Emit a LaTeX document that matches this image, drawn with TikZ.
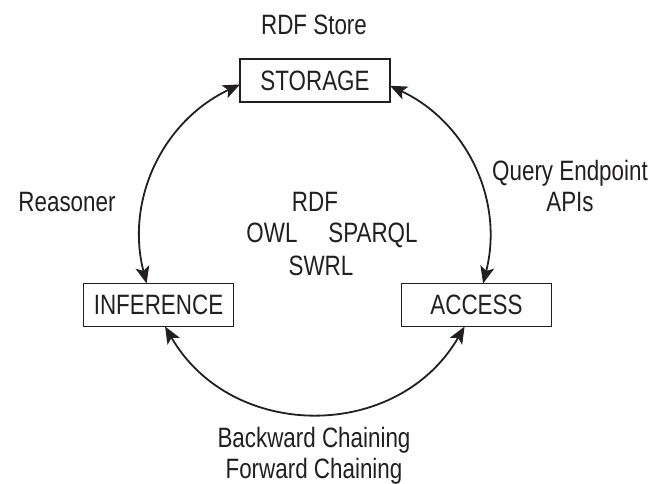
\documentclass[tikz,border=0pt]{standalone}
\usepackage{fontspec}
\setmainfont{Liberation Sans}[FakeStretch=0.8]
\usetikzlibrary{arrows.meta}

\begin{document}
\begin{tikzpicture}[x=0.5pt, y=0.5pt,
        every node/.style={font=\fontsize{14}{15.5}\selectfont, text=inkcolor},
        stage/.style={draw=inkcolor, line width=0.8pt, rectangle, outer sep=0pt,
            minimum width=75pt, minimum height=21.5pt, inner sep=0pt},
        label/.style={anchor=base, align=center},
        link/.style={draw=inkcolor, line width=0.9pt, <->,
            >={Stealth[length=8.5pt, width=7pt, inset=2pt]}}]
        % Define colors
        \definecolor{inkcolor}{RGB}{35,31,32}

        % Page frame
        \useasboundingbox (0,0) rectangle (670,483);

        % Stages of the cycle
        \node[stage] (storage) at (315,402.5) {STORAGE};
        \node[stage] (inference) at (158.5,178) {INFERENCE};
        \node[stage] (access) at (476.5,178) {ACCESS};

        % Arcs between stages
        \draw[link] (storage.183.4) to[bend right=39.5] (inference.119);
        \draw[link] (inference.287) to[bend right=60, looseness=1.14] (access.241);
        \draw[link] (storage.356.6) to[bend left=39.5] (access.73);

        % Labels around the cycle (base = last line)
        \node[label] (store) at (314,448) {RDF Store};
        \node[label] (reasoner) at (67,271) {Reasoner};
        \node[label] (query) at (570,271) {Query Endpoint\\APIs};
        \node[label] (chaining) at (314,5) {Backward Chaining\\Forward Chaining};

        % Languages in the middle
        \node[label] (rdf) at (315,271) {RDF};
        \node[label] (owl) at (272,241) {OWL};
        \node[label] (sparql) at (373,241) {SPARQL};
        \node[label] (swrl) at (321,207) {SWRL};

    \end{tikzpicture}
\end{document}
